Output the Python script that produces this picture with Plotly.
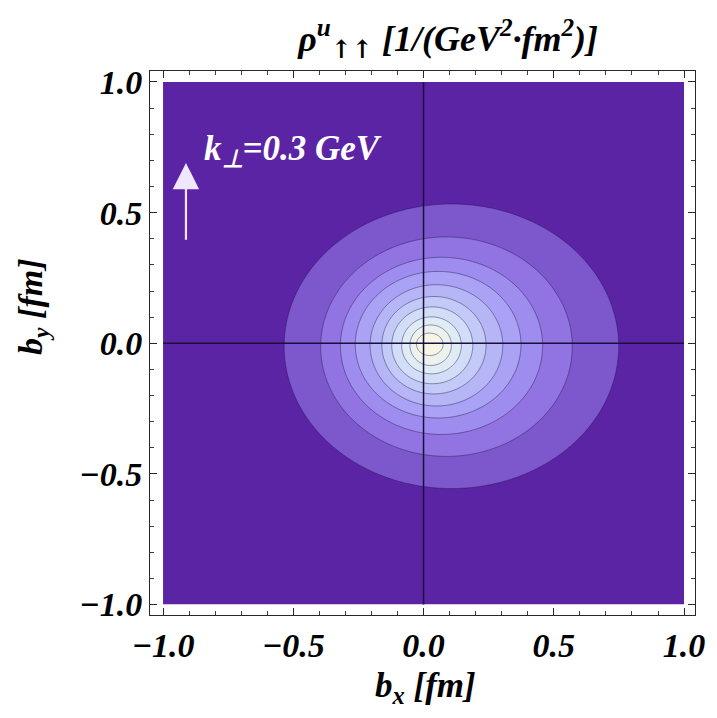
import numpy as np
import plotly.graph_objects as go

# Extents of the ten contour lines of the density (fm), outermost first
contour_left = [-0.535, -0.395, -0.319, -0.262, -0.205, -0.160, -0.122, -0.084, -0.052, -0.027]
contour_right = [0.749, 0.571, 0.457, 0.374, 0.304, 0.240, 0.189, 0.145, 0.107, 0.075]
contour_top = [0.533, 0.407, 0.329, 0.275, 0.224, 0.179, 0.139, 0.101, 0.070, 0.039]
contour_bottom = [-0.556, -0.433, -0.349, -0.286, -0.240, -0.194, -0.155, -0.117, -0.085, -0.047]

# Band colours from the background (lowest) to the peak
band_colors = [
    "rgb(90,36,164)", "rgb(125,88,205)", "rgb(145,115,225)", "rgb(158,140,238)",
    "rgb(170,162,244)", "rgb(182,182,247)", "rgb(196,202,248)", "rgb(210,222,247)",
    "rgb(224,236,244)", "rgb(236,243,238)", "rgb(247,246,228)",
]

tick_vals = [-1.0, -0.5, 0.0, 0.5, 1.0]
kperp_label = "k<sub>⊥</sub>=0.3 GeV"
title_text = ("ρ<sup>u</sup><sub><span style=\"font-family:'DejaVu Serif'\">↑↑</span></sub>"
              " [1/(GeV<sup>2</sup>·fm<sup>2</sup>)]")

# Sampling grid: fine across the distribution, coarse in the flat outskirts
xs = np.unique(np.concatenate([np.linspace(-1, -0.6, 9), np.arange(-0.6, 0.8001, 0.004),
                               np.linspace(0.8, 1, 5)]))
ys = np.unique(np.concatenate([np.linspace(-1, -0.62, 9), np.arange(-0.62, 0.6001, 0.004),
                               np.linspace(0.6, 1, 9)]))
X, Y = np.meshgrid(xs, ys)

# Smoothed count of nested contour ellipses enclosing each point
Z = np.zeros_like(X)
w = 0.003
for L, R, T, B in zip(contour_left, contour_right, contour_top, contour_bottom):
    cx, cy = (L + R) / 2, (T + B) / 2
    ax, ay = (R - L) / 2, (T - B) / 2
    rho = np.sqrt(((X - cx) / ax) ** 2 + ((Y - cy) / ay) ** 2)
    d = (1 - rho) * min(ax, ay)
    Z += 1 / (1 + np.exp(-np.clip(d / w, -50, 50)))
Z = np.round(Z, 3)

n = len(band_colors) - 1
colorscale = [[i / n, c] for i, c in enumerate(band_colors)]

font_fam = "Liberation Serif"
fig = go.Figure()
fig.add_trace(go.Contour(
    x=xs, y=ys, z=Z,
    zmin=0, zmax=n, colorscale=colorscale, showscale=False,
    contours=dict(start=0.5, end=n - 0.5, size=1, coloring="fill", showlines=True),
    line=dict(color="rgba(35,25,70,0.45)", width=1),
    hoverinfo="skip",
))

# Axes through the origin
for shp in [dict(x0=-1, x1=1, y0=0, y1=0), dict(x0=0, x1=0, y0=-1, y1=1)]:
    fig.add_shape(type="line", xref="x", yref="y", line=dict(color="rgb(25,15,60)", width=1.5), **shp)

# Transverse momentum arrow and label
fig.add_annotation(x=-0.912, y=0.69, ax=-0.912, ay=0.39, xref="x", yref="y", axref="x", ayref="y",
                   showarrow=True, arrowhead=2, arrowsize=2.4, arrowwidth=2.2,
                   arrowcolor="rgb(240,230,255)", text="")
fig.add_annotation(x=-0.85, y=0.737, xref="x", yref="y", xanchor="left", yanchor="middle",
                   showarrow=False, text=kperp_label,
                   font=dict(family=font_fam, size=35, color="white", weight="bold", style="italic"))

# Axis titles
fig.add_annotation(x=0.506, y=-0.134, xref="paper", yref="paper", xanchor="center", yanchor="middle",
                   showarrow=False, text="b<sub>x</sub> [fm]",
                   font=dict(family=font_fam, size=35, color="black", weight="bold", style="italic"))
fig.add_annotation(x=-0.215, y=0.566, xref="paper", yref="paper", xanchor="center", yanchor="middle",
                   showarrow=False, textangle=-90, text="b<sub>y</sub> [fm]",
                   font=dict(family=font_fam, size=34, color="black", weight="bold", style="italic"))

axis_common = dict(
    tickvals=tick_vals, tickformat=".1f", ticks="inside", ticklen=7, tickwidth=1,
    tickcolor="rgb(40,40,40)", showline=True, linecolor="rgb(40,40,40)", linewidth=1,
    mirror="allticks", showgrid=False, zeroline=False,
    minor=dict(dtick=0.1, tick0=0, ticks="inside", ticklen=4, tickcolor="rgb(60,60,60)", showgrid=False),
    tickfont=dict(family=font_fam, size=34, color="black", weight="bold", style="italic"),
)

fig.update_layout(
    width=717, height=718,
    margin=dict(l=150, r=18, t=71, b=103),
    paper_bgcolor="white", plot_bgcolor="white",
    title=dict(text=title_text,
               x=0.625, xanchor="center", xref="container",
               y=0.947, yanchor="middle", yref="container",
               font=dict(family=font_fam, size=36, color="black", weight="bold", style="italic")),
    xaxis=dict(range=[-1.05, 1.042], **axis_common),
    yaxis=dict(range=[-1.04, 1.042], **axis_common),
    showlegend=False,
)

fig.write_html("out.html")
